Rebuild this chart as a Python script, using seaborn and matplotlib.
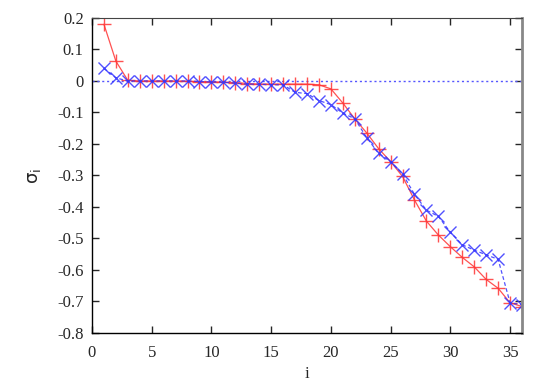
import numpy as np
import pandas as pd
import seaborn as sns
import matplotlib.pyplot as plt

# values
idx = list(range(1, 37))
sigma_red = [0.18, 0.063, 0.002, 0.0, 0.0, 0.0, 0.0, -0.001, -0.002, -0.003,
             -0.004, -0.005, -0.008, -0.01, -0.01, -0.01, -0.01, -0.01, -0.012, -0.025,
             -0.07, -0.12, -0.165, -0.215, -0.256, -0.303, -0.378, -0.445, -0.489, -0.526,
             -0.56, -0.59, -0.63, -0.658, -0.704, -0.716]
sigma_blue = [0.04, 0.01, 0.0, 0.0, 0.0, 0.0, 0.0, 0.0, -0.002, -0.003,
              -0.004, -0.007, -0.01, -0.01, -0.012, -0.012, -0.036, -0.04, -0.062, -0.075,
              -0.102, -0.12, -0.18, -0.23, -0.256, -0.295, -0.36, -0.41, -0.43, -0.48,
              -0.52, -0.537, -0.552, -0.566, -0.704, -0.711]
x_ticks = [0, 5, 10, 15, 20, 25, 30, 35]
y_ticks = [0.2, 0.1, 0, -0.1, -0.2, -0.3, -0.4, -0.5, -0.6, -0.7, -0.8]

sns.set_style("ticks")
plt.rcParams['font.family'] = ['Liberation Serif', 'DejaVu Serif']
plt.rcParams['axes.unicode_minus'] = False

df = pd.DataFrame({'i': idx, 'red': sigma_red, 'blue': sigma_blue})

fig = plt.figure(figsize=(5.45, 3.82), dpi=100)
ax = fig.add_axes([0.1688, 0.1283, 0.789, 0.8246])

ax.axhline(0, color='#5555ff', lw=1.0, ls=(0, (1.5, 2)), zorder=1)
sns.lineplot(data=df, x='i', y='red', ax=ax, color='#ff3333', lw=0.9,
             marker='+', markersize=10, markeredgewidth=1.0,
             markeredgecolor='#ff3333', alpha=0.85)
sns.lineplot(data=df, x='i', y='blue', ax=ax, color='#3333ff', lw=0.9,
             ls=(0, (3, 2)), marker='x', markersize=8, markeredgewidth=1.0,
             markeredgecolor='#3333ff', alpha=0.85)

ax.set_xlim(0, 36)
ax.set_ylim(-0.8, 0.2)
ax.set_xticks(x_ticks)
ax.set_xticklabels([str(t) for t in x_ticks])
ax.set_yticks(y_ticks)
ax.set_yticklabels([f"{t:g}" for t in y_ticks])
ax.tick_params(direction='in', length=5, width=1, labelsize=12, top=True, right=True, pad=6)
ax.tick_params(axis='x', pad=9)

for side in ['left', 'bottom']:
    ax.spines[side].set_color('black')
    ax.spines[side].set_linewidth(1.0)
ax.spines['top'].set_color('#444444')
ax.spines['right'].set_color('#888888')
ax.spines['right'].set_linewidth(2.0)

ax.set_xlabel('i', fontsize=12, labelpad=3)
ax.set_ylabel(r'$\mathregular{\sigma_i}$', fontsize=13, labelpad=10,
              family=['DejaVu Sans'])

fig.savefig('out.png', dpi=100)
